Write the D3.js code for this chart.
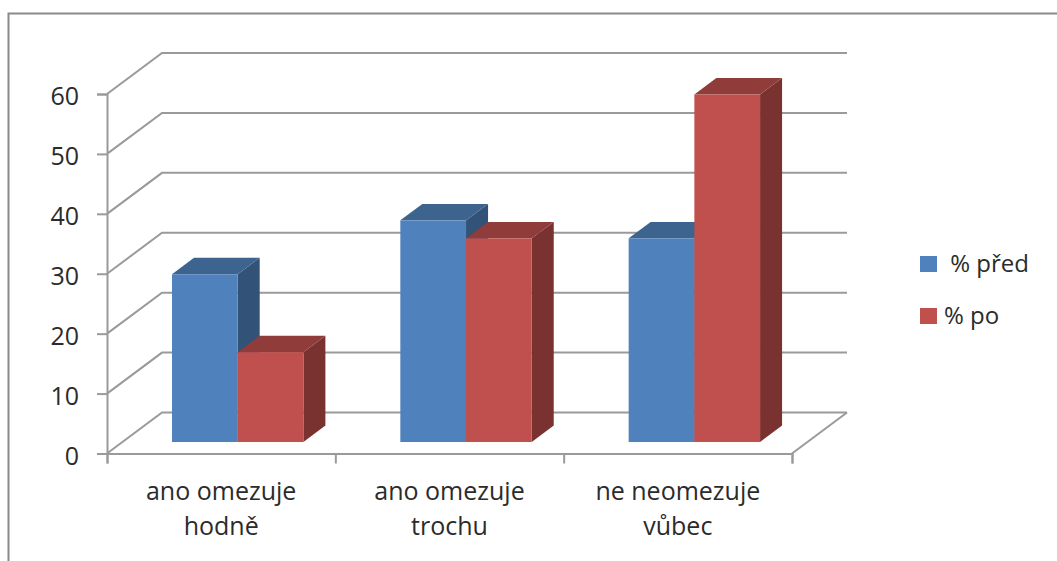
<!DOCTYPE html>
<html>
<head>
<meta charset="utf-8">
<script src="https://cdn.jsdelivr.net/npm/d3@7"></script>
<style>
  html, body { margin: 0; padding: 0; background: #fff; }
  svg { display: block; }
  text { font-family: "Open Sans", Lato, sans-serif; fill: #2b2b2b; white-space: pre; }
</style>
</head>
<body>
<svg id="chart" width="1057" height="561"></svg>
<script>
const categories = [["ano omezuje", "hodně"], ["ano omezuje", "trochu"], ["ne neomezuje", "vůbec"]];
const seriesNames = [" % před", "% po"];
const pred = [28, 37, 34];
const po = [15, 34, 58];
const yTicks = [0, 10, 20, 30, 40, 50, 60];

const colors = [
  { front: "#4f81bd", top: "#3d648f", side: "#325278" },
  { front: "#c0504d", top: "#8f3c3a", side: "#7a3230" }
];
const gridColor = "#9a9a9a";
const fontSize = 25;

const svg = d3.select("#chart");
const x = d3.scaleBand().domain(d3.range(categories.length)).range([107, 792]);
const y = d3.scaleLinear().domain([0, 60]).range([453.5, 94]);

// Oblique projection: depth 0 is the front plane, depth 1 the back wall.
const depthX = 55, depthY = -41;
const project = (px, py, depth) => [px + depth * depthX, py + depth * depthY];
const barFront = 0.28, barBack = 0.68;
const barInset = 65, barWidth = 65.7;

// Chart frame: left and top edges
svg.append("path")
  .attr("d", "M8.5,561V13.5H1057")
  .attr("fill", "none").attr("stroke", "#8a8a8a").attr("stroke-width", 2);

// Gridlines run along the side wall and then the back wall
const line = d3.line();
svg.append("g").selectAll("path").data(yTicks).join("path")
  .attr("d", v => line([project(107, y(v), 0), project(107, y(v), 1), project(792, y(v), 1)]))
  .attr("fill", "none").attr("stroke", gridColor).attr("stroke-width", 2);

// Right edge of the floor
svg.append("path")
  .attr("d", line([project(792, y(0), 0), project(792, y(0), 1)]))
  .attr("fill", "none").attr("stroke", gridColor).attr("stroke-width", 2);

const yAxis = d3.axisLeft(y).tickValues(yTicks).tickSize(10).tickPadding(18);
const xAxis = d3.axisBottom(d3.scaleLinear().domain([0, 3]).range([107, 792]))
  .tickValues([0, 1, 2, 3]).tickSize(10).tickFormat("");

const gy = svg.append("g").attr("transform", "translate(107,0)").call(yAxis);
gy.selectAll("path,line").attr("stroke", gridColor).attr("stroke-width", 2);
gy.selectAll("text").attr("font-size", fontSize).attr("dy", "0.43em");

const gx = svg.append("g").attr("transform", `translate(0,${y(0)})`).call(xAxis);
gx.selectAll("path,line").attr("stroke", gridColor).attr("stroke-width", 2);

// One 3D bar: side and top faces behind the front face
function drawBar(g, i, s, v) {
  const xl = x(i) + barInset + s * barWidth;
  const xr = xl + barWidth;
  const dz = barBack - barFront;
  const lift = barFront * depthY;
  const base = y(0) + lift, top = y(v) + lift;
  const a = project(xl, top, 0), b = project(xr, top, 0), c = project(xr, base, 0);
  const aBack = project(xl, top, dz), bBack = project(xr, top, dz), cBack = project(xr, base, dz);
  const col = colors[s];
  g.append("path").attr("d", line([b, bBack, cBack, c]) + "Z").attr("fill", col.side);
  g.append("path").attr("d", line([a, aBack, bBack, b]) + "Z").attr("fill", col.top);
  g.append("rect").attr("x", xl).attr("y", top).attr("width", barWidth).attr("height", base - top)
    .attr("fill", col.front);
}
const barsG = svg.append("g");
categories.forEach((_, i) => {
  drawBar(barsG, i, 0, pred[i]);
  drawBar(barsG, i, 1, po[i]);
});

// Category labels, two lines each
const labels = svg.append("g").attr("text-anchor", "middle");
categories.forEach((lines, i) => {
  lines.forEach((t, k) => {
    labels.append("text")
      .attr("x", x(i) + x.bandwidth() / 2)
      .attr("y", 500 + k * 35)
      .attr("font-size", fontSize)
      .text(t);
  });
});

// Legend
const legend = svg.append("g");
seriesNames.forEach((name, s) => {
  legend.append("rect").attr("x", 920).attr("y", 256 + s * 52).attr("width", 17).attr("height", 16)
    .attr("fill", colors[s].front);
  legend.append("text").attr("x", 944).attr("y", 272 + s * 52).attr("font-size", 24).text(name);
});
</script>
</body>
</html>
